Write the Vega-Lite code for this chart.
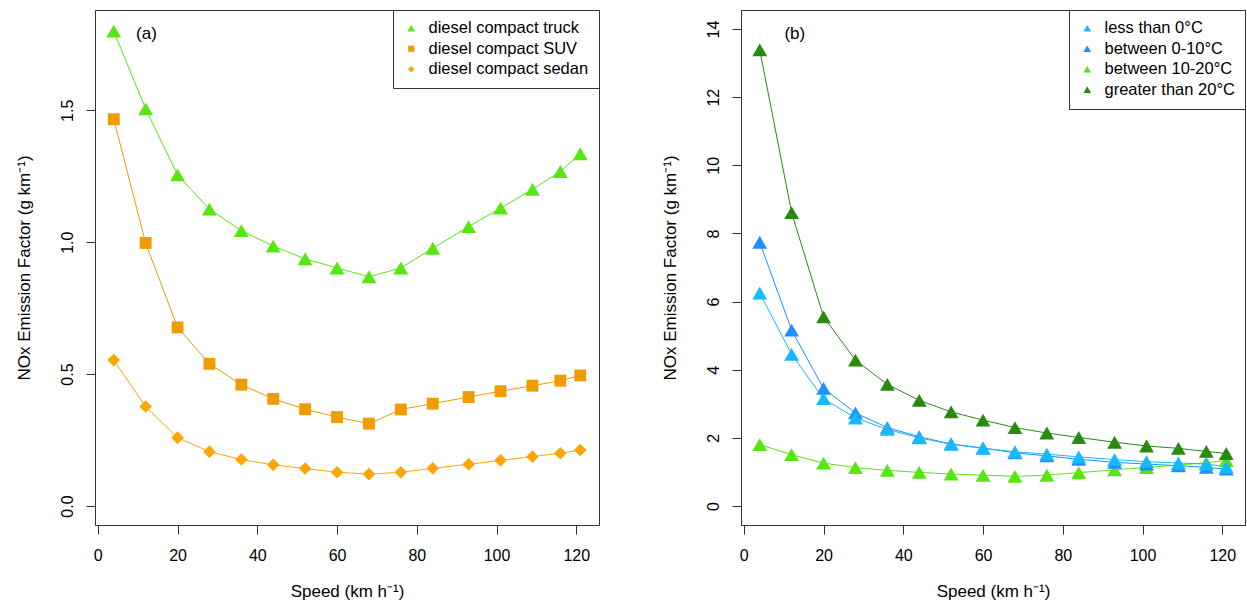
{
  "$schema": "https://vega.github.io/schema/vega-lite/v6.json",
  "padding": {"left": 14, "top": 9, "right": 0, "bottom": 0},
  "background": "white",
  "spacing": 60,
  "config": {
    "font": "Liberation Sans",
    "view": {"stroke": "#333", "strokeWidth": 1},
    "axis": {
      "domain": false, "grid": false, "tickColor": "#333", "tickSize": 9,
      "labelFont": "Liberation Sans", "labelFontSize": 16, "labelColor": "black",
      "titleFont": "Liberation Sans", "titleFontSize": 17, "titleFontWeight": "normal", "titleColor": "black"
    },
    "axisX": {"labelPadding": 13, "titlePadding": 20},
    "axisY": {"labelAngle": 270, "labelAlign": "center", "labelBaseline": "bottom", "labelPadding": 11, "titlePadding": 26},
    "legend": {
      "orient": "top-right", "offset": 0, "strokeColor": "#333", "fillColor": "white", "padding": 10,
      "labelFont": "Liberation Sans", "labelFontSize": 16.5, "labelColor": "black", "labelLimit": 300,
      "symbolSize": 60, "rowPadding": 3.5, "labelOffset": 9, "symbolStrokeWidth": 0, "titlePadding": 0
    }
  },
  "datasets": {
    "a": [
      {"speed": 4, "nox": 1.80, "vehicle": "diesel compact truck"},
      {"speed": 12, "nox": 1.505, "vehicle": "diesel compact truck"},
      {"speed": 20, "nox": 1.255, "vehicle": "diesel compact truck"},
      {"speed": 28, "nox": 1.125, "vehicle": "diesel compact truck"},
      {"speed": 36, "nox": 1.044, "vehicle": "diesel compact truck"},
      {"speed": 44, "nox": 0.985, "vehicle": "diesel compact truck"},
      {"speed": 52, "nox": 0.937, "vehicle": "diesel compact truck"},
      {"speed": 60, "nox": 0.902, "vehicle": "diesel compact truck"},
      {"speed": 68, "nox": 0.869, "vehicle": "diesel compact truck"},
      {"speed": 76, "nox": 0.902, "vehicle": "diesel compact truck"},
      {"speed": 84, "nox": 0.977, "vehicle": "diesel compact truck"},
      {"speed": 93, "nox": 1.059, "vehicle": "diesel compact truck"},
      {"speed": 101, "nox": 1.129, "vehicle": "diesel compact truck"},
      {"speed": 109, "nox": 1.200, "vehicle": "diesel compact truck"},
      {"speed": 116, "nox": 1.268, "vehicle": "diesel compact truck"},
      {"speed": 121, "nox": 1.335, "vehicle": "diesel compact truck"},
      {"speed": 4, "nox": 1.466, "vehicle": "diesel compact SUV"},
      {"speed": 12, "nox": 0.997, "vehicle": "diesel compact SUV"},
      {"speed": 20, "nox": 0.677, "vehicle": "diesel compact SUV"},
      {"speed": 28, "nox": 0.539, "vehicle": "diesel compact SUV"},
      {"speed": 36, "nox": 0.460, "vehicle": "diesel compact SUV"},
      {"speed": 44, "nox": 0.406, "vehicle": "diesel compact SUV"},
      {"speed": 52, "nox": 0.367, "vehicle": "diesel compact SUV"},
      {"speed": 60, "nox": 0.337, "vehicle": "diesel compact SUV"},
      {"speed": 68, "nox": 0.312, "vehicle": "diesel compact SUV"},
      {"speed": 76, "nox": 0.366, "vehicle": "diesel compact SUV"},
      {"speed": 84, "nox": 0.388, "vehicle": "diesel compact SUV"},
      {"speed": 93, "nox": 0.413, "vehicle": "diesel compact SUV"},
      {"speed": 101, "nox": 0.435, "vehicle": "diesel compact SUV"},
      {"speed": 109, "nox": 0.456, "vehicle": "diesel compact SUV"},
      {"speed": 116, "nox": 0.475, "vehicle": "diesel compact SUV"},
      {"speed": 121, "nox": 0.495, "vehicle": "diesel compact SUV"},
      {"speed": 4, "nox": 0.553, "vehicle": "diesel compact sedan"},
      {"speed": 12, "nox": 0.377, "vehicle": "diesel compact sedan"},
      {"speed": 20, "nox": 0.259, "vehicle": "diesel compact sedan"},
      {"speed": 28, "nox": 0.206, "vehicle": "diesel compact sedan"},
      {"speed": 36, "nox": 0.176, "vehicle": "diesel compact sedan"},
      {"speed": 44, "nox": 0.156, "vehicle": "diesel compact sedan"},
      {"speed": 52, "nox": 0.142, "vehicle": "diesel compact sedan"},
      {"speed": 60, "nox": 0.128, "vehicle": "diesel compact sedan"},
      {"speed": 68, "nox": 0.121, "vehicle": "diesel compact sedan"},
      {"speed": 76, "nox": 0.128, "vehicle": "diesel compact sedan"},
      {"speed": 84, "nox": 0.143, "vehicle": "diesel compact sedan"},
      {"speed": 93, "nox": 0.158, "vehicle": "diesel compact sedan"},
      {"speed": 101, "nox": 0.173, "vehicle": "diesel compact sedan"},
      {"speed": 109, "nox": 0.187, "vehicle": "diesel compact sedan"},
      {"speed": 116, "nox": 0.200, "vehicle": "diesel compact sedan"},
      {"speed": 121, "nox": 0.212, "vehicle": "diesel compact sedan"}
    ],
    "b": [
      {"speed": 4, "nox": 1.80, "temp": "between 10-20°C"},
      {"speed": 12, "nox": 1.505, "temp": "between 10-20°C"},
      {"speed": 20, "nox": 1.255, "temp": "between 10-20°C"},
      {"speed": 28, "nox": 1.125, "temp": "between 10-20°C"},
      {"speed": 36, "nox": 1.044, "temp": "between 10-20°C"},
      {"speed": 44, "nox": 0.985, "temp": "between 10-20°C"},
      {"speed": 52, "nox": 0.937, "temp": "between 10-20°C"},
      {"speed": 60, "nox": 0.902, "temp": "between 10-20°C"},
      {"speed": 68, "nox": 0.869, "temp": "between 10-20°C"},
      {"speed": 76, "nox": 0.902, "temp": "between 10-20°C"},
      {"speed": 84, "nox": 0.977, "temp": "between 10-20°C"},
      {"speed": 93, "nox": 1.059, "temp": "between 10-20°C"},
      {"speed": 101, "nox": 1.129, "temp": "between 10-20°C"},
      {"speed": 109, "nox": 1.200, "temp": "between 10-20°C"},
      {"speed": 116, "nox": 1.268, "temp": "between 10-20°C"},
      {"speed": 121, "nox": 1.335, "temp": "between 10-20°C"},
      {"speed": 4, "nox": 7.74, "temp": "between 0-10°C"},
      {"speed": 12, "nox": 5.16, "temp": "between 0-10°C"},
      {"speed": 20, "nox": 3.45, "temp": "between 0-10°C"},
      {"speed": 28, "nox": 2.73, "temp": "between 0-10°C"},
      {"speed": 36, "nox": 2.30, "temp": "between 0-10°C"},
      {"speed": 44, "nox": 2.03, "temp": "between 0-10°C"},
      {"speed": 52, "nox": 1.82, "temp": "between 0-10°C"},
      {"speed": 60, "nox": 1.70, "temp": "between 0-10°C"},
      {"speed": 68, "nox": 1.56, "temp": "between 0-10°C"},
      {"speed": 76, "nox": 1.47, "temp": "between 0-10°C"},
      {"speed": 84, "nox": 1.37, "temp": "between 0-10°C"},
      {"speed": 93, "nox": 1.28, "temp": "between 0-10°C"},
      {"speed": 101, "nox": 1.23, "temp": "between 0-10°C"},
      {"speed": 109, "nox": 1.18, "temp": "between 0-10°C"},
      {"speed": 116, "nox": 1.13, "temp": "between 0-10°C"},
      {"speed": 121, "nox": 1.08, "temp": "between 0-10°C"},
      {"speed": 4, "nox": 13.39, "temp": "greater than 20°C"},
      {"speed": 12, "nox": 8.61, "temp": "greater than 20°C"},
      {"speed": 20, "nox": 5.55, "temp": "greater than 20°C"},
      {"speed": 28, "nox": 4.28, "temp": "greater than 20°C"},
      {"speed": 36, "nox": 3.57, "temp": "greater than 20°C"},
      {"speed": 44, "nox": 3.10, "temp": "greater than 20°C"},
      {"speed": 52, "nox": 2.76, "temp": "greater than 20°C"},
      {"speed": 60, "nox": 2.52, "temp": "greater than 20°C"},
      {"speed": 68, "nox": 2.30, "temp": "greater than 20°C"},
      {"speed": 76, "nox": 2.14, "temp": "greater than 20°C"},
      {"speed": 84, "nox": 2.01, "temp": "greater than 20°C"},
      {"speed": 93, "nox": 1.87, "temp": "greater than 20°C"},
      {"speed": 101, "nox": 1.76, "temp": "greater than 20°C"},
      {"speed": 109, "nox": 1.69, "temp": "greater than 20°C"},
      {"speed": 116, "nox": 1.60, "temp": "greater than 20°C"},
      {"speed": 121, "nox": 1.54, "temp": "greater than 20°C"},
      {"speed": 4, "nox": 6.25, "temp": "less than 0°C"},
      {"speed": 12, "nox": 4.45, "temp": "less than 0°C"},
      {"speed": 20, "nox": 3.15, "temp": "less than 0°C"},
      {"speed": 28, "nox": 2.58, "temp": "less than 0°C"},
      {"speed": 36, "nox": 2.25, "temp": "less than 0°C"},
      {"speed": 44, "nox": 2.00, "temp": "less than 0°C"},
      {"speed": 52, "nox": 1.81, "temp": "less than 0°C"},
      {"speed": 60, "nox": 1.69, "temp": "less than 0°C"},
      {"speed": 68, "nox": 1.59, "temp": "less than 0°C"},
      {"speed": 76, "nox": 1.52, "temp": "less than 0°C"},
      {"speed": 84, "nox": 1.44, "temp": "less than 0°C"},
      {"speed": 93, "nox": 1.36, "temp": "less than 0°C"},
      {"speed": 101, "nox": 1.30, "temp": "less than 0°C"},
      {"speed": 109, "nox": 1.26, "temp": "less than 0°C"},
      {"speed": 116, "nox": 1.23, "temp": "less than 0°C"},
      {"speed": 121, "nox": 1.15, "temp": "less than 0°C"}
    ]
  },
  "resolve": {"scale": {"color": "independent", "shape": "independent"}, "legend": {"color": "independent", "shape": "independent"}},
  "hconcat": [
    {
      "width": 504,
      "height": 515,
      "layer": [
        {
          "data": {"name": "a"},
          "mark": {"type": "line", "strokeWidth": 1},
          "encoding": {
            "x": {"field": "speed", "type": "quantitative", "title": "Speed (km h⁻¹)",
                  "scale": {"domain": [-0.7, 125.7], "nice": false, "zero": false},
                  "axis": {"values": [0, 20, 40, 60, 80, 100, 120]}},
            "y": {"field": "nox", "type": "quantitative", "title": "NOx Emission Factor (g km⁻¹)",
                  "scale": {"domain": [-0.072, 1.88], "nice": false, "zero": false},
                  "axis": {"values": [0, 0.5, 1, 1.5], "format": ".1f"}},
            "color": {"field": "vehicle", "type": "nominal",
                      "scale": {"domain": ["diesel compact truck", "diesel compact SUV", "diesel compact sedan"], "range": ["#55E810", "#F09C00", "#FFA500"]},
                      "legend": {"title": null}}
          }
        },
        {
          "data": {"name": "a"},
          "mark": {"type": "point", "filled": true, "opacity": 1, "strokeWidth": 0, "size": 220},
          "encoding": {
            "x": {"field": "speed", "type": "quantitative"},
            "y": {"field": "nox", "type": "quantitative"},
            "color": {"field": "vehicle", "type": "nominal",
                      "scale": {"domain": ["diesel compact truck", "diesel compact SUV", "diesel compact sedan"], "range": ["#55E810", "#F09C00", "#FFA500"]},
                      "legend": {"title": null}},
            "shape": {"field": "vehicle", "type": "nominal",
                      "scale": {"domain": ["diesel compact truck", "diesel compact SUV", "diesel compact sedan"], "range": ["triangle-up", "M-0.8,-0.8H0.8V0.8H-0.8Z", "M0,-0.85L0.85,0L0,0.85L-0.85,0Z"]},
                      "legend": {"title": null}}
          }
        },
        {
          "data": {"values": [{}]},
          "mark": {"type": "text", "fontSize": 17, "font": "Liberation Sans", "color": "black"},
          "encoding": {
            "x": {"datum": 12.2, "type": "quantitative"},
            "y": {"datum": 1.79, "type": "quantitative"},
            "text": {"value": "(a)"}
          }
        }
      ]
    },
    {
      "width": 504,
      "height": 515,
      "layer": [
        {
          "data": {"name": "b"},
          "mark": {"type": "line", "strokeWidth": 1},
          "encoding": {
            "x": {"field": "speed", "type": "quantitative", "title": "Speed (km h⁻¹)",
                  "scale": {"domain": [-0.7, 125.7], "nice": false, "zero": false},
                  "axis": {"values": [0, 20, 40, 60, 80, 100, 120]}},
            "y": {"field": "nox", "type": "quantitative", "title": "NOx Emission Factor (g km⁻¹)",
                  "scale": {"domain": [-0.56, 14.56], "nice": false, "zero": false},
                  "axis": {"values": [0, 2, 4, 6, 8, 10, 12, 14]}},
            "color": {"field": "temp", "type": "nominal",
                      "scale": {"domain": ["less than 0°C", "between 0-10°C", "between 10-20°C", "greater than 20°C"], "range": ["#18B8FF", "#1E90FF", "#55E810", "#2A8A10"]},
                      "legend": {"title": null, "symbolType": "triangle-up"}}
          }
        },
        {
          "data": {"name": "b"},
          "mark": {"type": "point", "filled": true, "opacity": 1, "strokeWidth": 0, "size": 220, "shape": "triangle-up"},
          "encoding": {
            "x": {"field": "speed", "type": "quantitative"},
            "y": {"field": "nox", "type": "quantitative"},
            "color": {"field": "temp", "type": "nominal",
                      "scale": {"domain": ["less than 0°C", "between 0-10°C", "between 10-20°C", "greater than 20°C"], "range": ["#18B8FF", "#1E90FF", "#55E810", "#2A8A10"]},
                      "legend": {"title": null, "symbolType": "triangle-up"}}
          }
        },
        {
          "data": {"values": [{}]},
          "mark": {"type": "text", "fontSize": 17, "font": "Liberation Sans", "color": "black"},
          "encoding": {
            "x": {"datum": 12.8, "type": "quantitative"},
            "y": {"datum": 13.87, "type": "quantitative"},
            "text": {"value": "(b)"}
          }
        }
      ]
    }
  ]
}
